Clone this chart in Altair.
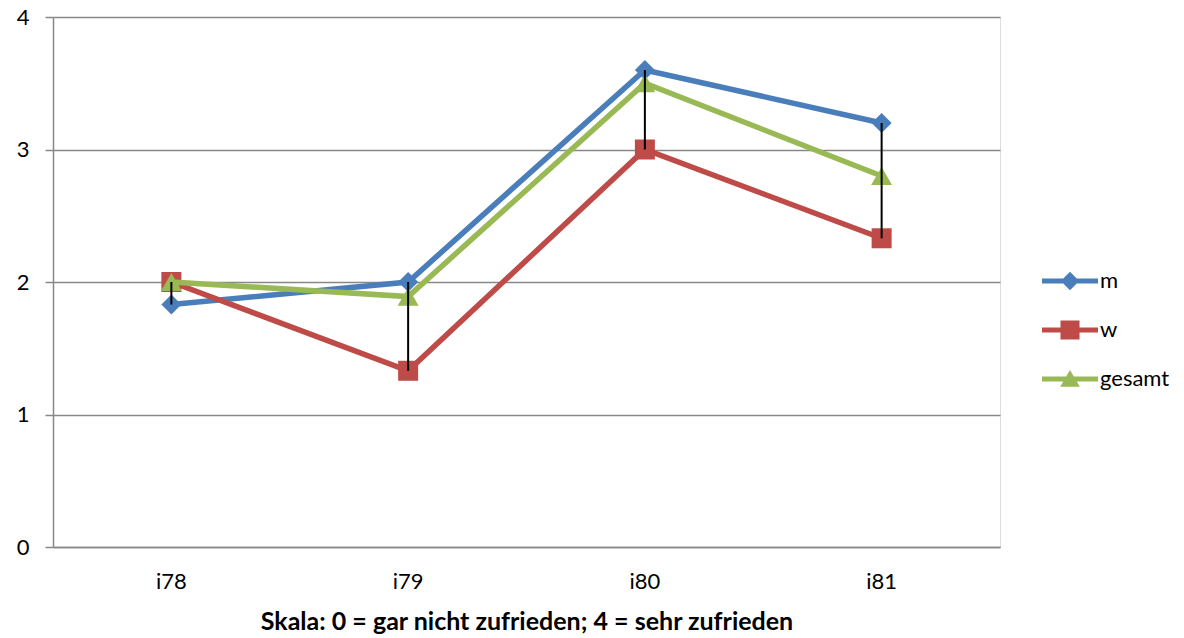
import altair as alt
import pandas as pd

categories = ["i78", "i79", "i80", "i81"]
series = ["m", "w", "gesamt"]
m_values = [1.83, 2.0, 3.6, 3.2]
w_values = [2.0, 1.33, 3.0, 2.33]
gesamt_values = [2.0, 1.89, 3.5, 2.8]
colors = ["#4A7EBB", "#BE4B48", "#98B954"]
shapes = ["diamond", "square", "triangle-up"]
sizes = [400, 400, 440]
x_title = "Skala: 0 = gar nicht zufrieden; 4 = sehr zufrieden"

values = {"m": m_values, "w": w_values, "gesamt": gesamt_values}
rows = []
for s in series:
    for c, v in zip(categories, values[s]):
        rows.append({"cat": c, "series": s, "value": v})
df = pd.DataFrame(rows)

FONT = "Lato"
x_enc = alt.X("cat:N", sort=categories, title=x_title,
              scale=alt.Scale(paddingInner=0, paddingOuter=0),
              axis=alt.Axis(labelAngle=0, ticks=False, labelPadding=24, titlePadding=17,
                            domainColor="#888888", domainWidth=1.5, labelFontSize=22,
                            titleFontSize=25, titleFontWeight="bold", labelColor="#000",
                            titleColor="#000", labelFont=FONT, titleFont=FONT))
y_enc = alt.Y("value:Q", title=None, scale=alt.Scale(domain=[0, 4]),
              axis=alt.Axis(values=[0, 1, 2, 3, 4], format="d", grid=True,
                            gridColor="#888888", gridWidth=1.5, domainColor="#888888",
                            domainWidth=1.5, tickColor="#888888", tickSize=8, tickWidth=1.5,
                            labelPadding=16, labelFontSize=22, labelColor="#000",
                            labelFont=FONT))

base = alt.Chart(df)
layers = []
for s, col, shp, sz in zip(series, colors, shapes, sizes):
    sub = base.transform_filter(alt.datum.series == s)
    layers.append(sub.mark_line(color=col, strokeWidth=5.5).encode(x=x_enc, y=y_enc))
    layers.append(sub.mark_point(color=col, shape=shp, size=sz, filled=True, opacity=1)
                  .encode(x=x_enc, y=y_enc))

hl = base.transform_aggregate(lo="min(value)", hi="max(value)", groupby=["cat"]).mark_rule(
    color="#000", strokeWidth=2).encode(x=x_enc, y=alt.Y("lo:Q"), y2="hi:Q")
layers.append(hl)

line_part = "M-1,-0.09L1,-0.09L1,0.09L-1,0.09Z"
legend_paths = [
    line_part + "M0,-0.33L0.33,0L0,0.33L-0.33,0Z",
    line_part + "M-0.34,-0.34L0.34,-0.34L0.34,0.34L-0.34,0.34Z",
    line_part + "M0,-0.32L0.35,0.28L-0.35,0.28Z",
]
leg = alt.Legend(title=None, orient="none", legendX=989, legendY=236,
                 symbolSize=3136, symbolStrokeWidth=0, labelFontSize=22,
                 labelFont=FONT, labelColor="#000", labelOffset=2,
                 rowPadding=10, padding=0)
legend_layer = base.transform_filter("false").mark_point(filled=True, opacity=1).encode(
    x=x_enc, y=y_enc,
    color=alt.Color("series:N", scale=alt.Scale(domain=series, range=colors), legend=leg),
    shape=alt.Shape("series:N", scale=alt.Scale(domain=series, range=legend_paths), legend=leg),
)
layers.append(legend_layer)

chart = alt.layer(*layers).properties(
    width=947, height=530,
    autosize=alt.AutoSizeParams(type="none"),
    padding={"left": 45, "top": 9, "right": 176, "bottom": 100},
).configure_view(stroke=None).configure(background="white")

chart.save("out.html", embed_options={"renderer": "svg", "actions": False})
